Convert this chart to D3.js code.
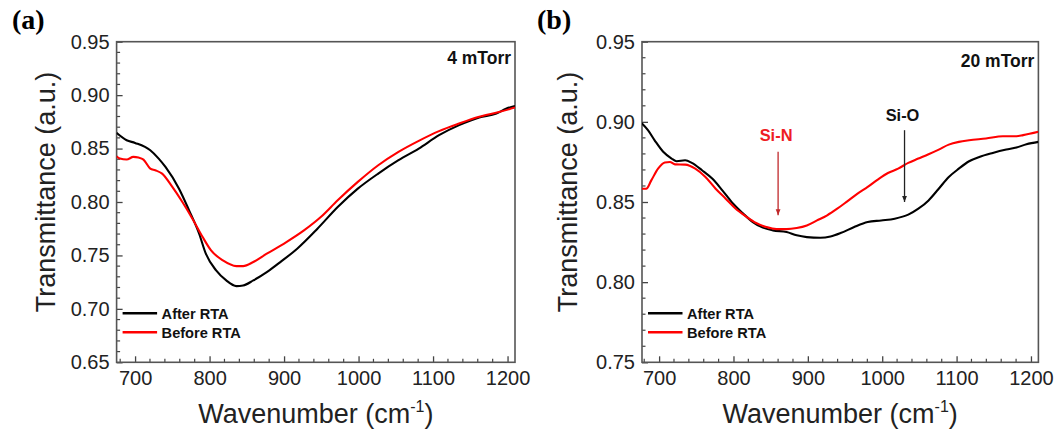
<!DOCTYPE html>
<html>
<head>
<meta charset="utf-8">
<script src="https://cdn.jsdelivr.net/npm/d3@7"></script>
<style>
  html, body { margin: 0; padding: 0; background: #fff; }
  svg { display: block; font-family: "Liberation Sans", Arial, sans-serif; }
</style>
</head>
<body>
<svg id="chart" width="1062" height="437"></svg>
<script>
// ---------------- DATA ----------------
const xTicks = [700, 800, 900, 1000, 1100, 1200];
const yTicksA = [0.65, 0.70, 0.75, 0.80, 0.85, 0.90, 0.95];
const yTicksB = [0.75, 0.80, 0.85, 0.90, 0.95];
const seriesNames = ["After RTA", "Before RTA"];

// Panel (a) 4 mTorr : [wavenumber, transmittance]
const a_after = [
  [675,0.8647],[688.7,0.8578],[700,0.8553],[720.4,0.8484],[731.7,0.8406],[740.8,0.8328],
  [759,0.8125],[772.5,0.7922],[786,0.7703],[795,0.7516],[808.8,0.736],[822.4,0.7266],
  [836,0.7213],[845,0.7219],[858.7,0.7266],[876.8,0.7344],[895,0.7438],[917.6,0.7563],
  [944.8,0.775],[972,0.7953],[999,0.8125],[1026.4,0.8266],[1053.6,0.8391],[1080.8,0.85],
  [1108,0.8625],[1135,0.8719],[1162,0.8791],[1185,0.8828],[1198.6,0.8875],[1210,0.8897]
];
const a_before = [
  [675,0.8428],[679.6,0.8406],[688.7,0.8397],[697.7,0.8422],[704.5,0.8416],[711.3,0.8397],
  [720.4,0.8313],[727,0.8297],[736.3,0.8266],[750,0.8141],[763.5,0.80],[777,0.7844],
  [790.7,0.7672],[802,0.7547],[817.9,0.7453],[836,0.7400],[845,0.7400],[858.7,0.7438],
  [876.8,0.7516],[899.5,0.7609],[926.7,0.7734],[949.3,0.7859],[972,0.8016],[999,0.8188],
  [1026.4,0.8344],[1053.6,0.8469],[1080.8,0.8572],[1108,0.8663],[1135,0.8734],[1162,0.8797],
  [1189.6,0.8844],[1210,0.8884]
];

// Panel (b) 20 mTorr
const b_after = [
  [676,0.8994],[685,0.8948],[694,0.8885],[705.5,0.8813],[716.8,0.8771],[723.6,0.8754],
  [735,0.8760],[744,0.8744],[757.7,0.8698],[771.4,0.8646],[785,0.8573],[798.6,0.8494],
  [812.3,0.8431],[826,0.8375],[839.5,0.8340],[853,0.8323],[871.4,0.8313],[885,0.8292],
  [898.6,0.8281],[916.8,0.8277],[930.5,0.8285],[944,0.8306],[962.3,0.8344],[980.5,0.8375],
  [998.6,0.8385],[1016.8,0.8396],[1035,0.8421],[1048.6,0.8458],[1062.3,0.8510],[1076,0.8583],
  [1089.5,0.8656],[1103,0.8708],[1116.8,0.8754],[1130.5,0.8781],[1148.6,0.8806],[1166.8,0.8827],
  [1180.5,0.8840],[1194,0.8860],[1210,0.8875]
];
const b_before = [
  [676,0.8583],[682.7,0.8583],[689.5,0.8635],[698.6,0.8708],[707.7,0.8746],[714.5,0.8750],
  [721.4,0.8735],[735,0.8733],[748.6,0.8708],[762.3,0.8656],[776,0.8583],[789.5,0.8521],
  [803,0.8458],[816.8,0.8410],[830.5,0.8369],[844,0.8344],[857.7,0.8331],[871.4,0.8331],
  [885,0.8338],[898.6,0.8354],[912.3,0.8385],[926,0.8417],[939.5,0.8458],[953,0.8504],
  [966.8,0.8552],[980.5,0.8594],[994,0.8640],[1007.7,0.8681],[1021.4,0.8708],[1035,0.8744],
  [1048.6,0.8771],[1062.3,0.8798],[1076,0.8827],[1089.5,0.8858],[1103,0.8875],[1116.8,0.8885],
  [1139.5,0.8896],[1162.3,0.8910],[1180.5,0.8910],[1189.5,0.8917],[1210,0.8938]
];

// annotations for panel (b): label, x, arrow tail y, arrow tip y
const b_annotations = [
  {label: "Si-N", x: 860, y0: 0.8813, y1: 0.8417, color: "#ee1c24", arrow: "#c0282a", marker: "arrRed", ly: 0.8880},
  {label: "Si-O", x: 1030, y0: 0.8948, y1: 0.8500, color: "#111111", arrow: "#222222", marker: "arrBlk", ly: 0.9005}
];

// ---------------- DRAW ----------------
const svg = d3.select("#chart");
const colors = ["#000000", "#ff0000"];

const defs = svg.append("defs");
[["arrRed","#c0282a"],["arrBlk","#222"]].forEach(([id,c]) => {
  defs.append("marker").attr("id", id).attr("viewBox","0 0 10 10")
    .attr("refX", 10).attr("refY", 5).attr("markerWidth", 6).attr("markerHeight", 9)
    .attr("markerUnits","userSpaceOnUse").attr("orient","auto")
    .append("path").attr("d","M0,1 L10,5 L0,9 Z").attr("fill", c);
});

function panel(opt) {
  const {left, top, right, bottom, xDomain, yDomain, yTicks, series, label, pressure,
         labelX, yTitleX, pressureY, annotations} = opt;
  const x = d3.scaleLinear().domain(xDomain).range([left, right]);
  const y = d3.scaleLinear().domain(yDomain).range([bottom, top]);
  const g = svg.append("g");

  // minor ticks
  const xMinor = d3.range(680, 1210, 20).filter(v => v % 100 !== 0);
  const yMinor = d3.range(Math.round(yDomain[0]*100), Math.round(yDomain[1]*100) + 1)
      .map(v => v/100).filter(v => Math.round(v*100) % 5 !== 0);

  // bottom axis
  const xAxis = d3.axisBottom(x).tickValues(xTicks).tickSize(-6).tickPadding(8.5)
      .tickFormat(d3.format("d"));
  const gx = g.append("g").attr("transform", `translate(0,${bottom})`).call(xAxis);
  gx.select(".domain").remove();
  gx.selectAll(".tick line").attr("stroke", "#444").attr("stroke-width", 1.3);
  gx.selectAll(".tick text").attr("font-size", 20).attr("fill", "#222")
      .style("font-family", "Liberation Sans, Arial, sans-serif");
  g.append("g").selectAll("line").data(xMinor).join("line")
      .attr("x1", d => x(d)).attr("x2", d => x(d))
      .attr("y1", bottom).attr("y2", bottom - 3.5)
      .attr("stroke", "#444").attr("stroke-width", 1.2);

  // left axis
  const yAxis = d3.axisLeft(y).tickValues(yTicks).tickSize(-6).tickPadding(7)
      .tickFormat(d3.format(".2f"));
  const gy = g.append("g").attr("transform", `translate(${left},0)`).call(yAxis);
  gy.select(".domain").remove();
  gy.selectAll(".tick line").attr("stroke", "#444").attr("stroke-width", 1.3);
  gy.selectAll(".tick text").attr("font-size", 20).attr("fill", "#222")
      .style("font-family", "Liberation Sans, Arial, sans-serif");
  g.append("g").selectAll("line").data(yMinor).join("line")
      .attr("x1", left).attr("x2", left + 3.5)
      .attr("y1", d => y(d)).attr("y2", d => y(d))
      .attr("stroke", "#444").attr("stroke-width", 1.2);

  // frame
  g.append("rect").attr("x", left).attr("y", top)
      .attr("width", right - left).attr("height", bottom - top)
      .attr("fill", "none").attr("stroke", "#555").attr("stroke-width", 1.6);

  // curves
  const line = d3.line().x(d => x(d[0])).y(d => y(d[1])).curve(d3.curveMonotoneX);
  const clipId = "clip" + label.replace(/\W/g, "");
  defs.append("clipPath").attr("id", clipId).append("rect")
      .attr("x", left).attr("y", top).attr("width", right - left).attr("height", bottom - top);
  const cg = g.append("g").attr("clip-path", `url(#${clipId})`);
  series.forEach((s, i) => {
    cg.append("path").datum(s).attr("d", line)
      .attr("fill", "none").attr("stroke", colors[i]).attr("stroke-width", 2.1)
      .attr("stroke-linejoin", "round");
  });

  // legend
  seriesNames.forEach((n, i) => {
    const ly = 313.3 + i * 19;
    g.append("line").attr("x1", left + 6).attr("x2", left + 40.5)
      .attr("y1", ly).attr("y2", ly).attr("stroke", colors[i]).attr("stroke-width", 2.4);
    g.append("text").attr("x", left + 45).attr("y", ly + 5.2)
      .attr("font-size", 14.6).attr("font-weight", "bold").attr("fill", "#111").text(n);
  });

  // pressure label
  g.append("text").attr("x", right - 4).attr("y", pressureY).attr("text-anchor", "end")
    .attr("font-size", 17.5).attr("font-weight", "bold").attr("fill", "#111").text(pressure);

  // annotations
  (annotations || []).forEach(a => {
    g.append("line").attr("x1", x(a.x)).attr("x2", x(a.x))
      .attr("y1", y(a.y0)).attr("y2", y(a.y1))
      .attr("stroke", a.arrow).attr("stroke-width", 1.3)
      .attr("marker-end", `url(#${a.marker})`);
    g.append("text").attr("x", x(a.x) - 2).attr("y", y(a.ly)).attr("text-anchor", "middle")
      .attr("font-size", 16.4).attr("font-weight", "bold").attr("fill", a.color).text(a.label);
  });

  // axis titles
  const xt = g.append("text").attr("x", (left + right) / 2).attr("y", 423.3)
    .attr("text-anchor", "middle").attr("font-size", 27).attr("fill", "#222");
  xt.append("tspan").text("Wavenumber (cm");
  xt.append("tspan").attr("font-size", 16).attr("dy", -11).text("-1");
  xt.append("tspan").attr("dy", 11).text(")");

  g.append("text").attr("transform", `translate(${yTitleX},192) rotate(-90)`)
    .attr("text-anchor", "middle").attr("font-size", 27).attr("fill", "#222")
    .text("Transmittance (a.u.)");

  // panel label
  g.append("text").attr("x", labelX).attr("y", 29)
    .style("font-family", "'Liberation Serif', 'Times New Roman', serif")
    .attr("font-size", 28).attr("font-weight", "bold").attr("fill", "#000").text(label);
}

panel({left: 116.6, top: 41.7, right: 515, bottom: 362.3, xDomain: [675.2, 1210],
  yDomain: [0.65, 0.95], yTicks: yTicksA, pressureY: 63.5,
  series: [a_after, a_before], label: "(a)", pressure: "4 mTorr", labelX: 12, yTitleX: 55});
panel({left: 642, top: 41.7, right: 1038.4, bottom: 362.3, xDomain: [677, 1210],
  yDomain: [0.75, 0.95], yTicks: yTicksB, pressureY: 66.7,
  series: [b_after, b_before], label: "(b)", pressure: "20 mTorr", labelX: 537, yTitleX: 577,
  annotations: b_annotations});
</script>
</body>
</html>
